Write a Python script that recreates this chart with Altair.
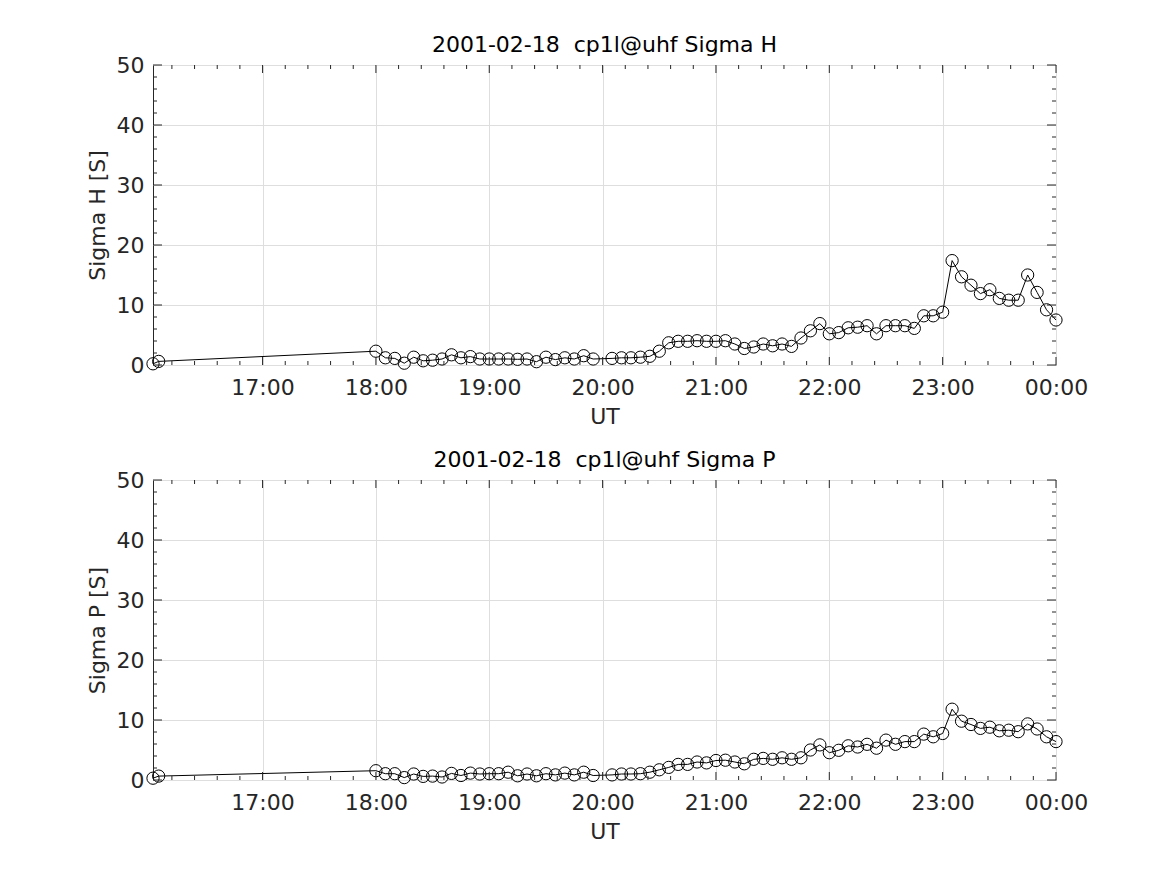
import altair as alt
import pandas as pd

times = ["16:02", "16:05",
         "18:00", "18:05", "18:10", "18:15", "18:20", "18:25", "18:30", "18:35", "18:40", "18:45", "18:50", "18:55",
         "19:00", "19:05", "19:10", "19:15", "19:20", "19:25", "19:30", "19:35", "19:40", "19:45", "19:50", "19:55",
         "20:05", "20:10", "20:15", "20:20", "20:25", "20:30", "20:35", "20:40", "20:45", "20:50", "20:55",
         "21:00", "21:05", "21:10", "21:15", "21:20", "21:25", "21:30", "21:35", "21:40", "21:45", "21:50", "21:55",
         "22:00", "22:05", "22:10", "22:15", "22:20", "22:25", "22:30", "22:35", "22:40", "22:45", "22:50", "22:55",
         "23:00", "23:05", "23:10", "23:15", "23:20", "23:25", "23:30", "23:35", "23:40", "23:45", "23:50", "23:55",
         "00:00"]

sigma_h = [0.2, 0.6,
           2.3, 1.2, 1.1, 0.3, 1.3, 0.7, 0.8, 1.0, 1.7, 1.2, 1.4, 1.0,
           1.0, 1.0, 1.0, 0.95, 1.0, 0.55, 1.3, 0.9, 1.2, 1.0, 1.55, 1.0,
           1.1, 1.2, 1.2, 1.3, 1.45, 2.3, 3.7, 3.95, 3.95, 4.05, 3.95,
           3.95, 4.05, 3.5, 2.75, 3.0, 3.5, 3.2, 3.5, 3.1, 4.5, 5.7, 6.9,
           5.2, 5.4, 6.2, 6.3, 6.55, 5.2, 6.55, 6.55, 6.55, 6.1, 8.2, 8.2,
           8.8, 17.4, 14.7, 13.3, 11.9, 12.55, 11.1, 10.8, 10.8, 15.0, 12.1, 9.2,
           7.5]

sigma_p = [0.3, 0.65,
           1.55, 1.05, 1.05, 0.4, 1.0, 0.6, 0.65, 0.5, 1.1, 0.75, 1.15, 1.0,
           1.05, 1.05, 1.3, 0.7, 1.0, 0.7, 1.05, 0.85, 1.15, 0.85, 1.3, 0.75,
           0.85, 1.0, 1.0, 1.05, 1.3, 1.7, 2.1, 2.6, 2.6, 3.0, 2.85,
           3.25, 3.3, 3.0, 2.7, 3.45, 3.6, 3.45, 3.7, 3.45, 3.7, 5.0, 5.85,
           4.55, 4.95, 5.7, 5.5, 5.95, 5.3, 6.65, 5.95, 6.4, 6.4, 7.65, 7.2,
           7.75, 11.8, 9.8, 9.25, 8.6, 8.8, 8.2, 8.3, 8.05, 9.35, 8.5, 7.2,
           6.4]

assert len(times) == len(sigma_h) == len(sigma_p)

x_major = [17, 18, 19, 20, 21, 22, 23, 24]
x_minor = [16 + k / 5 for k in range(1, 40) if k % 5 != 0]
y_major = [0, 10, 20, 30, 40, 50]
y_minor = [2, 4, 6, 8, 12, 14, 16, 18, 22, 24, 26, 28, 32, 34, 36, 38, 42, 44, 46, 48]


def to_hours(t):
    hh, mm = t.split(":")
    h = int(hh) + int(mm) / 60
    return 24.0 if h == 0 else h


hours = [to_hours(t) for t in times]
X_DOMAIN = [hours[0], 24.0]
W, H = 903, 300
TXT = "#262626"
FONT = "DejaVu Sans"
FS = 22


def panel(values, title, ylabel):
    df = pd.DataFrame({"h": hours, "v": values})
    xs = alt.Scale(domain=X_DOMAIN, nice=False, zero=False)
    ys = alt.Scale(domain=[0, 50], nice=False)
    xaxis = alt.Axis(values=x_major, grid=True, gridColor="#dedede", tickSize=0, domain=False,
                     labelExpr="(datum.value % 24 < 10 ? '0' : '') + (datum.value % 24) + ':00'",
                     labelFlush=False, labelOverlap=False,
                     labelPadding=12, labelFontSize=FS, labelColor=TXT, labelFont=FONT,
                     title="UT", titleFontSize=FS, titleFontWeight="normal", titleColor=TXT,
                     titleFont=FONT, titlePadding=8)
    yaxis = alt.Axis(values=y_major, grid=True, gridColor="#dedede", tickSize=0, domain=False,
                     labelFlush=False, labelOverlap=False,
                     labelPadding=9, labelFontSize=FS, labelColor=TXT, labelFont=FONT,
                     title=ylabel, titleFontSize=FS, titleFontWeight="normal", titleColor=TXT,
                     titleFont=FONT, titlePadding=7)
    base = alt.Chart(df).encode(
        x=alt.X("h:Q", scale=xs, axis=xaxis),
        y=alt.Y("v:Q", scale=ys, axis=yaxis),
    )
    line = base.mark_line(color="black", strokeWidth=1)
    pts = base.mark_point(shape="circle", filled=False, color="black", size=150, strokeWidth=1, opacity=1)

    xt_major = pd.DataFrame({"h": x_major})
    xt_minor = pd.DataFrame({"h": x_minor})
    yt_major = pd.DataFrame({"v": y_major})
    yt_minor = pd.DataFrame({"v": y_minor})

    def xticks(d, L):
        b = alt.Chart(d).encode(x=alt.X("h:Q", scale=xs, axis=xaxis))
        bottom = b.mark_rule(color=TXT, strokeWidth=1).encode(y=alt.value(H), y2=alt.value(H - L))
        top = b.mark_rule(color=TXT, strokeWidth=1).encode(y=alt.value(0), y2=alt.value(L))
        return [bottom, top]

    def yticks(d, L):
        b = alt.Chart(d).encode(y=alt.Y("v:Q", scale=ys, axis=yaxis))
        left = b.mark_rule(color=TXT, strokeWidth=1).encode(x=alt.value(0), x2=alt.value(L))
        right = b.mark_rule(color=TXT, strokeWidth=1).encode(x=alt.value(W), x2=alt.value(W - L))
        return [left, right]

    layers = [line, pts] + xticks(xt_major, 8) + xticks(xt_minor, 4) + yticks(yt_major, 9) + yticks(yt_minor, 4)
    return alt.layer(*layers).properties(
        width=W, height=H,
        title=alt.TitleParams(title, fontSize=FS, fontWeight="normal", color="black",
                              font=FONT, offset=-3, anchor="middle"),
    )


top = panel(sigma_h, "2001-02-18\u00a0 cp1l@uhf Sigma H", "Sigma H [S]")
bottom = panel(sigma_p, "2001-02-18\u00a0 cp1l@uhf Sigma P", "Sigma P [S]")

chart = alt.vconcat(top, bottom, spacing=20).properties(
    padding={"left": 77, "top": 25, "right": 10, "bottom": 10},
    background="white",
).configure_view(stroke=TXT, strokeWidth=1)

chart.save("out.html", embed_options={"renderer": "svg", "actions": False})
